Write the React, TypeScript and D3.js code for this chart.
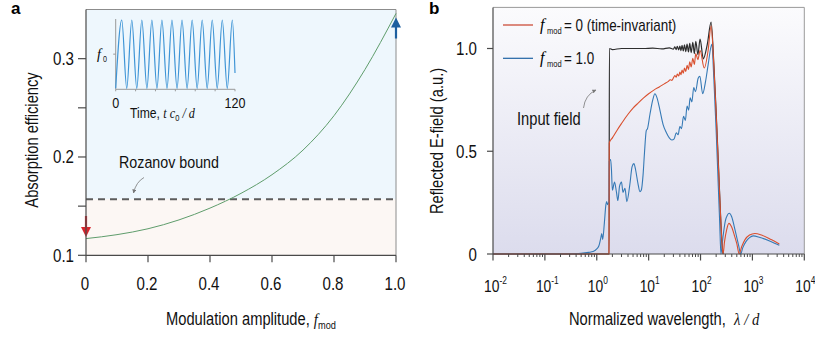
import React from 'react';
import * as d3 from 'd3';

// ---------- Panel a data ----------
const fmodValues = [0, 0.1, 0.2, 0.3, 0.4, 0.5, 0.6, 0.7, 0.8, 0.9, 1.0];
const absorption = [0.117, 0.121, 0.127, 0.136, 0.148, 0.163, 0.182, 0.207, 0.242, 0.289, 0.346];
const rozanovBound = 0.157;
const leftXTicks = [0, 0.2, 0.4, 0.6, 0.8, 1.0];
const leftXTickLabels = ['0', '0.2', '0.4', '0.6', '0.8', '1.0'];
const leftYTicks = [0.1, 0.2, 0.3];
const leftYMinorTicks = [0.15, 0.25];

// inset modulation: extrema of the sinusoid (time, normalized value)
const insetTimes = [0, 6.1, 11.1, 16.2, 21.2, 26.3, 31.4, 36.4, 41.5, 46.5, 51.6, 56.6, 61.7, 66.7, 71.8, 76.9, 81.9, 87.0, 92.0, 97.1, 102.1, 107.2, 112.2, 117.3, 120];
const insetValues = [-1, 1, -1, 1, -1, 1, -1, 1, -1, 1, -1, 1, -1, 1, -1, 1, -1, 1, -1, 1, -1, 1, -1, 1, -0.55];
const insetXTicks = [0, 20, 40, 60, 80, 100, 120];

// ---------- Panel b data ([lambda/d, field]) ----------
const inputField: [number, number][] = [
  [0.01, 0], [1.72, 0], [1.73, 0], [1.75, 1.0], [2.0, 0.995], [3, 1.0], [5, 1.0], [8, 1.0], [12, 1.002],
  [18, 0.998], [25, 1.003], [30, 0.997], [32, 1.008], [34, 0.995], [35.6, 1.01], [38, 0.993], [40, 1.012],
  [42, 0.99], [44, 1.015], [46.5, 0.988], [49, 1.018], [52, 0.985], [55, 1.022], [58.5, 0.983], [62, 1.025],
  [66, 0.98], [71, 1.03], [76, 0.975], [81, 1.035], [89, 0.97], [98, 1.046], [113, 0.95], [135, 1.02],
  [160, 1.128], [180, 0.93], [200, 0.69], [220, 0.45], [240, 0.22], [258, 0.06], [272, 0]
];
const fmod0Field: [number, number][] = [
  [0.01, 0], [1.72, 0], [1.74, 0.54], [2.0, 0.565], [2.5, 0.605], [3, 0.635], [4, 0.68], [5, 0.71], [6, 0.73],
  [8, 0.76], [10, 0.78], [13, 0.80], [16, 0.813], [20, 0.828], [24, 0.84], [26, 0.848], [28, 0.845],
  [30, 0.857], [32, 0.868], [34, 0.86], [35.6, 0.876], [38, 0.866], [40, 0.885], [42, 0.873], [44, 0.895],
  [46.5, 0.88], [49, 0.905], [52, 0.888], [55, 0.918], [58.5, 0.898], [62, 0.935], [66, 0.91], [71, 0.952],
  [76, 0.922], [81, 0.975], [89, 0.945], [98, 0.99], [118, 0.905], [140, 0.99], [160, 1.11], [180, 0.92],
  [200, 0.68], [220, 0.44], [240, 0.22], [258, 0.06], [272, 0], [290, 0.06], [320, 0.12], [352, 0.149],
  [400, 0.13], [450, 0.09], [500, 0.05], [557, 0], [620, 0.035], [720, 0.07], [880, 0.092], [1117, 0.10],
  [1500, 0.092], [2300, 0.07], [3300, 0.049]
];
const fmod1Field: [number, number][] = [
  [0.01, 0], [0.3, 0], [0.5, 0.003], [0.7, 0.008], [0.85, 0.012], [1.0, 0.025], [1.1, 0.04], [1.2, 0.08],
  [1.25, 0.1], [1.3, 0.07], [1.4, 0.15], [1.5, 0.24], [1.55, 0.255], [1.62, 0.24], [1.7, 0.25], [1.72, 0.25],
  [1.74, 0.45], [1.85, 0.46], [1.92, 0.41], [2.0, 0.31], [2.2, 0.35], [2.4, 0.30], [2.55, 0.26], [2.75, 0.33],
  [3.0, 0.35], [3.2, 0.30], [3.5, 0.32], [3.8, 0.255], [4.3, 0.33], [4.8, 0.425], [5.2, 0.44], [5.6, 0.41],
  [6.2, 0.345], [6.8, 0.303], [7.2, 0.31], [7.8, 0.384], [8.3, 0.49], [9.0, 0.60], [9.5, 0.61], [10.6, 0.68],
  [12, 0.75], [13.2, 0.78], [14.5, 0.76], [16.5, 0.70], [19, 0.63], [22, 0.59], [25, 0.565], [28, 0.555],
  [31, 0.56], [34, 0.59], [37, 0.58], [40, 0.62], [43, 0.61], [47, 0.67], [51, 0.65], [55, 0.72], [59, 0.70],
  [63, 0.76], [68, 0.74], [74, 0.81], [80, 0.79], [90, 0.855], [97, 0.865], [110, 0.78], [125, 0.84],
  [140, 0.92], [165, 1.02], [180, 0.86], [200, 0.6], [220, 0.33], [235, 0.14], [247, 0], [270, 0.08],
  [300, 0.16], [330, 0.19], [357, 0.198], [400, 0.18], [450, 0.13], [500, 0.08], [550, 0.035], [593, 0],
  [650, 0.03], [750, 0.06], [880, 0.08], [1035, 0.088], [1400, 0.08], [2200, 0.062], [3300, 0.042]
];
const rightYTicks = [0, 0.5, 1.0];
const rightYTickLabels = ['0', '0.5', '1.0'];
const rightXExponents = [-2, -1, 0, 1, 2, 3, 4];

const SANS = "'Liberation Sans', Arial, sans-serif";
const SERIF = "'Liberation Serif', 'Times New Roman', serif";
const SX = 0.84; // horizontal condensation of the sans font

type TP = {
  x: number; y: number; size: number; anchor?: 'start' | 'middle' | 'end';
  rotate?: number; children: React.ReactNode; fill?: string;
};
function T({ x, y, size, anchor = 'start', rotate, children, fill = '#111' }: TP) {
  const tr = `translate(${x},${y})${rotate ? ` rotate(${rotate})` : ''} scale(${SX},1)`;
  return (
    <text transform={tr} x={0} y={0} textAnchor={anchor} fontFamily={SANS} fontSize={size} fill={fill}>
      {children}
    </text>
  );
}

export default function App() {
  // ----- panel a scales -----
  const xL = d3.scaleLinear().domain([0, 1]).range([86, 396]);
  const yL = d3.scaleLinear().domain([0.1, 0.35]).range([255.3, 9.5]);
  const xI = d3.scaleLinear().domain([0, 120]).range([115.7, 235]);
  const yI = d3.scaleLinear().domain([-1, 1]).range([88.3, 20]);
  // ----- panel b scales -----
  const xR = d3.scaleLog().domain([0.01, 1e4]).range([493, 804.3]);
  const yR = d3.scaleLinear().domain([0, 1.2]).range([254, 7.4]);

  const greenLine = d3.line<number>()
    .x((_, i) => xL(fmodValues[i]))
    .y((d) => yL(d))
    .curve(d3.curveMonotoneX)(absorption) || '';

  const insetLine = d3.line<number>()
    .x((_, i) => xI(insetTimes[i]))
    .y((d) => yI(d))
    .curve(d3.curveMonotoneX)(insetValues) || '';

  const lineR = d3.line<[number, number]>()
    .x((d) => xR(d[0]))
    .y((d) => yR(d[1]))
    .curve(d3.curveMonotoneX);

  const minorTicks: number[] = [];
  for (let e = -2; e < 4; e++) {
    for (let m = 2; m <= 9; m++) minorTicks.push(m * Math.pow(10, e));
  }

  const yBound = yL(rozanovBound);
  const axisColor = '#4a4a4a';
  const borderColor = '#8c8c8c';

  const redArrowTip = yL(absorption[0]) - 1.5;
  const blueArrowTip = yL(absorption[absorption.length - 1]) + 4;

  return (
    <svg width={815} height={339} style={{ position: 'absolute', left: 0, top: 0, background: '#fff' }}>
      <defs>
        <linearGradient id="bgR" x1="0" y1="0" x2="0" y2="1">
          <stop offset="0" stopColor="#fbfbfd" />
          <stop offset="1" stopColor="#dcdced" />
        </linearGradient>
        <marker id="ah" viewBox="0 0 10 10" refX="9" refY="5" markerWidth="5" markerHeight="5" orient="auto">
          <path d="M0,0 L10,5 L0,10 z" fill="#777" />
        </marker>
      </defs>

      {/* ================= Panel a ================= */}
      <text x={11} y={14} fontFamily={SANS} fontWeight="bold" fontSize={17}>a</text>
      <rect x={xL(0)} y={yL(0.35)} width={xL(1) - xL(0)} height={yBound - yL(0.35)} fill="#eef7fd" />
      <rect x={xL(0)} y={yBound} width={xL(1) - xL(0)} height={yL(0.1) - yBound} fill="#fcf7f4" />
      <line x1={xL(0)} x2={xL(1)} y1={yL(0.35)} y2={yL(0.35)} stroke={borderColor} strokeWidth={1} />
      <line x1={xL(1)} x2={xL(1)} y1={yL(0.35)} y2={yL(0.1)} stroke={borderColor} strokeWidth={1} />
      <line x1={xL(0)} x2={xL(1)} y1={yBound} y2={yBound} stroke="#5c5c5c" strokeWidth={2} strokeDasharray="7 5" />
      <path d={greenLine} fill="none" stroke="#5f9d6c" strokeWidth={1} />

      {/* inset */}
      <line x1={xI(0)} x2={xI(0)} y1={19} y2={yI(-1) + 1} stroke="#999" strokeWidth={1} />
      <line x1={xI(0)} x2={xI(120)} y1={yI(-1) + 1} y2={yI(-1) + 1} stroke="#999" strokeWidth={1} />
      {insetXTicks.map((t) => (
        <line key={'it' + t} x1={xI(t)} x2={xI(t)} y1={yI(-1) + 1} y2={yI(-1) + 3} stroke="#999" strokeWidth={1} />
      ))}
      <line x1={xI(0) - 2.5} x2={xI(0)} y1={yI(0)} y2={yI(0)} stroke="#999" strokeWidth={1} />
      <path d={insetLine} fill="none" stroke="#3f95d6" strokeWidth={1.2} />
      <text x={97} y={59} fontFamily={SERIF} fontStyle="italic" fontSize={14}>f</text>
      <T x={103} y={62} size={8.5}>0</T>
      <T x={xI(0)} y={108} size={15} anchor="middle">0</T>
      <T x={xI(120)} y={108} size={15} anchor="middle">120</T>
      <T x={130} y={118} size={14.5}>Time, <tspan fontFamily={SERIF} fontStyle="italic">t c</tspan><tspan fontSize={9} dy={3}>0</tspan><tspan dy={-3} fontFamily={SERIF} fontStyle="italic"> / d</tspan></T>

      {/* arrows */}
      <line x1={xL(0)} x2={xL(0)} y1={216} y2={redArrowTip - 8} stroke="#d8262e" strokeWidth={2.2} />
      <path d={`M${xL(0) - 5},${redArrowTip - 10} L${xL(0) + 5},${redArrowTip - 10} L${xL(0)},${redArrowTip} Z`} fill="#d8262e" />
      <line x1={xL(1)} x2={xL(1)} y1={38.5} y2={blueArrowTip + 8} stroke="#1d5f9f" strokeWidth={2.2} />
      <path d={`M${xL(1) - 5},${blueArrowTip + 10} L${xL(1) + 5},${blueArrowTip + 10} L${xL(1)},${blueArrowTip} Z`} fill="#1d5f9f" />

      {/* Rozanov annotation */}
      <T x={119} y={168} size={17}>Rozanov bound</T>
      <path d="M144,177.5 Q136,182 133.5,193" fill="none" stroke="#777" strokeWidth={0.8} markerEnd="url(#ah)" />

      {/* axes a */}
      <line x1={xL(0)} x2={xL(0)} y1={yL(0.35)} y2={yL(0.1)} stroke={axisColor} strokeWidth={1.2} />
      <line x1={xL(0)} x2={xL(1)} y1={yL(0.1)} y2={yL(0.1)} stroke={axisColor} strokeWidth={1.2} />
      {leftYTicks.concat(leftYMinorTicks).map((t) => (
        <line key={'ly' + t} x1={xL(0) - 8} x2={xL(0)} y1={yL(t)} y2={yL(t)} stroke={axisColor} strokeWidth={1.2} />
      ))}
      {leftYTicks.map((t) => (
        <T key={'lyl' + t} x={74} y={yL(t) + 6.5} size={18} anchor="end">{t.toFixed(1)}</T>
      ))}
      {leftXTicks.map((t, i) => (
        <g key={'lx' + t}>
          <line x1={xL(t)} x2={xL(t)} y1={yL(0.1)} y2={yL(0.1) + 7} stroke={axisColor} strokeWidth={1.2} />
          <T x={xL(t) - 1} y={290} size={18} anchor="middle">{leftXTickLabels[i]}</T>
        </g>
      ))}
      <T x={38} y={140} rotate={-90} size={17.5} anchor="middle">Absorption efficiency</T>
      <T x={166} y={325} size={17.5}>Modulation amplitude, <tspan fontFamily={SERIF} fontStyle="italic">f</tspan><tspan fontSize={11} dy={4}>mod</tspan></T>

      {/* ================= Panel b ================= */}
      <text x={429} y={14} fontFamily={SANS} fontWeight="bold" fontSize={17}>b</text>
      <rect x={xR(0.01)} y={yR(1.2)} width={xR(1e4) - xR(0.01)} height={yR(0) - yR(1.2)} fill="url(#bgR)" />
      <line x1={xR(0.01)} x2={xR(1e4)} y1={yR(1.2)} y2={yR(1.2)} stroke="#9a9a9a" strokeWidth={1} />
      <line x1={xR(1e4)} x2={xR(1e4)} y1={yR(1.2)} y2={yR(0)} stroke="#9a9a9a" strokeWidth={1} />

      <path d={lineR(inputField) || ''} fill="none" stroke="#2e2e2e" strokeWidth={1.2} />
      <path d={lineR(fmod1Field) || ''} fill="none" stroke="#3579b5" strokeWidth={1.1} />
      <path d={lineR(fmod0Field) || ''} fill="none" stroke="#d94f2e" strokeWidth={1.1} />

      {/* legend */}
      <line x1={503} x2={533} y1={25} y2={25} stroke="#c8402a" strokeWidth={1.2} />
      <line x1={503} x2={533} y1={58.3} y2={58.3} stroke="#1f62a3" strokeWidth={1.2} />
      <text x={540} y={30} fontFamily={SERIF} fontStyle="italic" fontSize={16}>f</text>
      <T x={547} y={34} size={9}>mod</T>
      <T x={564} y={30.5} size={16}>= 0 (time-invariant)</T>
      <text x={540} y={63} fontFamily={SERIF} fontStyle="italic" fontSize={16}>f</text>
      <T x={547} y={67} size={9}>mod</T>
      <T x={564} y={63.5} size={16}>= 1.0</T>

      {/* Input field annotation */}
      <T x={517} y={125} size={17.5}>Input field</T>
      <path d="M583.5,108 Q585,95 596,90" fill="none" stroke="#777" strokeWidth={0.8} markerEnd="url(#ah)" />

      {/* axes b */}
      <line x1={xR(0.01)} x2={xR(0.01)} y1={yR(1.2)} y2={yR(0)} stroke={axisColor} strokeWidth={1.2} />
      <line x1={xR(0.01)} x2={xR(1e4)} y1={yR(0)} y2={yR(0)} stroke={axisColor} strokeWidth={1.2} />
      {rightYTicks.map((t, i) => (
        <g key={'ry' + t}>
          <line x1={xR(0.01) - 6} x2={xR(0.01)} y1={yR(t)} y2={yR(t)} stroke={axisColor} strokeWidth={1.2} />
          <T x={477} y={yR(t) + 6.5} size={18} anchor="end">{rightYTickLabels[i]}</T>
        </g>
      ))}
      {minorTicks.map((t) => (
        <line key={'mt' + t} x1={xR(t)} x2={xR(t)} y1={yR(0)} y2={yR(0) + 3} stroke={axisColor} strokeWidth={1} />
      ))}
      {rightXExponents.map((e) => (
        <g key={'rx' + e}>
          <line x1={xR(Math.pow(10, e))} x2={xR(Math.pow(10, e))} y1={yR(0)} y2={yR(0) + 6.5} stroke={axisColor} strokeWidth={1.2} />
          <T x={xR(Math.pow(10, e)) - 9} y={291.5} size={16.5}>10<tspan fontSize={10} dy={-7.5}>{e}</tspan></T>
        </g>
      ))}
      <T x={443} y={141} rotate={-90} size={17.5} anchor="middle">Reflected E-field (a.u.)</T>
      <T x={569} y={325} size={17.5}>Normalized wavelength, <tspan dx={5} fontFamily={SERIF} fontStyle="italic">λ / d</tspan></T>
    </svg>
  );
}
